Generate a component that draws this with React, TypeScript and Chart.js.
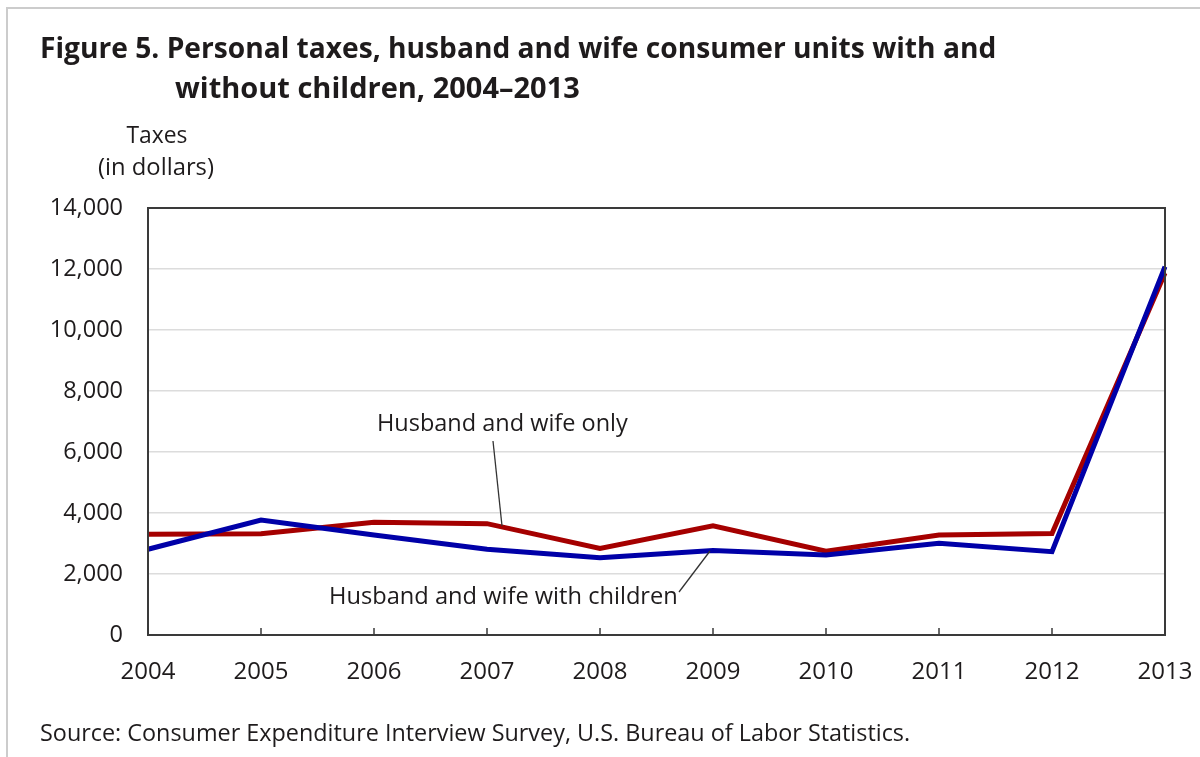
import React, { useEffect, useRef } from "react";
import { Chart, registerables } from "chart.js";

Chart.register(...registerables);

const years = ["2004", "2005", "2006", "2007", "2008", "2009", "2010", "2011", "2012", "2013"];
const husbandWifeOnly = [3300, 3320, 3700, 3650, 2840, 3580, 2750, 3280, 3330, 11870];
const husbandWifeWithChildren = [2810, 3770, 3280, 2810, 2530, 2770, 2620, 3010, 2730, 12080];
const yTicks = [0, 2000, 4000, 6000, 8000, 10000, 12000, 14000];

const titleLine1 = "Figure 5. Personal taxes, husband and wife consumer units with and";
const titleLine2 = "without children, 2004–2013";
const yTitle1 = "Taxes";
const yTitle2 = "(in dollars)";
const sourceText = "Source: Consumer Expenditure Interview Survey, U.S. Bureau of Labor Statistics.";
const labelOnly = "Husband and wife only";
const labelChildren = "Husband and wife with children";

const FONT = "'Open Sans', 'DejaVu Sans', sans-serif";
const TEXT = "#1e1b1c";

function fitText(
  ctx: CanvasRenderingContext2D,
  text: string,
  x: number,
  y: number,
  width: number,
  weight: string,
  align: CanvasTextAlign
) {
  ctx.font = `${weight} 100px ${FONT}`;
  const w = ctx.measureText(text).width;
  const size = (100 * width) / w;
  ctx.font = `${weight} ${size}px ${FONT}`;
  ctx.textAlign = align;
  ctx.textBaseline = "alphabetic";
  ctx.fillStyle = TEXT;
  ctx.fillText(text, x, y);
}

const decorPlugin = {
  id: "decor",
  afterDraw(chart: any) {
    const ctx: CanvasRenderingContext2D = chart.ctx;
    const area = chart.chartArea;
    const xs = chart.scales.x;
    ctx.save();

    // page frame
    ctx.strokeStyle = "#cccccc";
    ctx.lineWidth = 2;
    ctx.beginPath();
    ctx.moveTo(7, 757);
    ctx.lineTo(7, 8);
    ctx.lineTo(1200, 8);
    ctx.stroke();

    // plot frame
    ctx.strokeStyle = "#3a3a3a";
    ctx.lineWidth = 2;
    ctx.strokeRect(area.left, area.top, area.right - area.left, area.bottom - area.top);

    // inner tick marks on x axis
    ctx.lineWidth = 1.5;
    for (let i = 0; i < years.length; i++) {
      const px = xs.getPixelForTick(i);
      ctx.beginPath();
      ctx.moveTo(px, area.bottom);
      ctx.lineTo(px, area.bottom - 7);
      ctx.stroke();
    }

    // titles
    fitText(ctx, titleLine1, 40, 58, 957, "bold", "left");
    fitText(ctx, titleLine2, 175, 98, 405, "bold", "left");
    fitText(ctx, yTitle1, 157, 143, 61, "normal", "center");
    fitText(ctx, yTitle2, 156, 175, 116, "normal", "center");
    fitText(ctx, sourceText, 40, 741, 871, "normal", "left");

    // annotations
    fitText(ctx, labelOnly, 377, 431, 251, "normal", "left");
    fitText(ctx, labelChildren, 329, 604, 349, "normal", "left");

    ctx.strokeStyle = "#333333";
    ctx.lineWidth = 1.3;
    ctx.beginPath();
    ctx.moveTo(493, 441);
    ctx.lineTo(502, 526);
    ctx.stroke();
    ctx.beginPath();
    ctx.moveTo(679, 592);
    ctx.lineTo(710, 551);
    ctx.stroke();

    ctx.restore();
  },
};

export default function App() {
  const ref = useRef<HTMLCanvasElement | null>(null);

  useEffect(() => {
    if (!ref.current) return;
    const chart = new Chart(ref.current, {
      type: "line",
      data: {
        labels: years,
        datasets: [
          {
            label: labelChildren,
            data: husbandWifeWithChildren,
            borderColor: "#0000a8",
            borderWidth: 5,
            pointRadius: 0,
            tension: 0,
            fill: false,
          },
          {
            label: labelOnly,
            data: husbandWifeOnly,
            borderColor: "#a50000",
            borderWidth: 5,
            pointRadius: 0,
            tension: 0,
            fill: false,
          },
        ],
      },
      options: {
        responsive: false,
        animation: false,
        devicePixelRatio: 1,
        layout: { padding: { left: 0, top: 208, right: 35, bottom: 72 } },
        plugins: {
          legend: { display: false },
          tooltip: { enabled: false },
          title: { display: false },
        },
        scales: {
          x: {
            type: "category",
            offset: false,
            grid: { display: false, drawTicks: false },
            border: { display: false },
            ticks: {
              padding: 23,
              color: TEXT,
              font: { family: FONT, size: 24 },
              maxRotation: 0,
              autoSkip: false,
            },
            afterFit(scale: any) {
              scale.height = 50;
              scale.paddingLeft = 0;
              scale.paddingRight = 0;
            },
          },
          y: {
            min: 0,
            max: 14000,
            afterBuildTicks(scale: any) {
              scale.ticks = yTicks.map((v) => ({ value: v }));
            },
            grid: { color: "#dcdcdc", lineWidth: 1.5, drawTicks: false },
            border: { display: false },
            ticks: {
              padding: 25,
              color: TEXT,
              font: { family: FONT, size: 23.5 },
              callback: (v: any) => Number(v).toLocaleString("en-US"),
            },
            afterFit(scale: any) {
              scale.width = 148;
              scale.paddingTop = 0;
              scale.paddingBottom = 0;
            },
          },
        },
      },
      plugins: [decorPlugin],
    });
    return () => chart.destroy();
  }, []);

  return (
    <div style={{ position: "fixed", left: 0, top: 0, width: 1200, height: 757, background: "#ffffff" }}>
      <canvas ref={ref} width={1200} height={757} style={{ width: 1200, height: 757, display: "block" }} />
    </div>
  );
}
